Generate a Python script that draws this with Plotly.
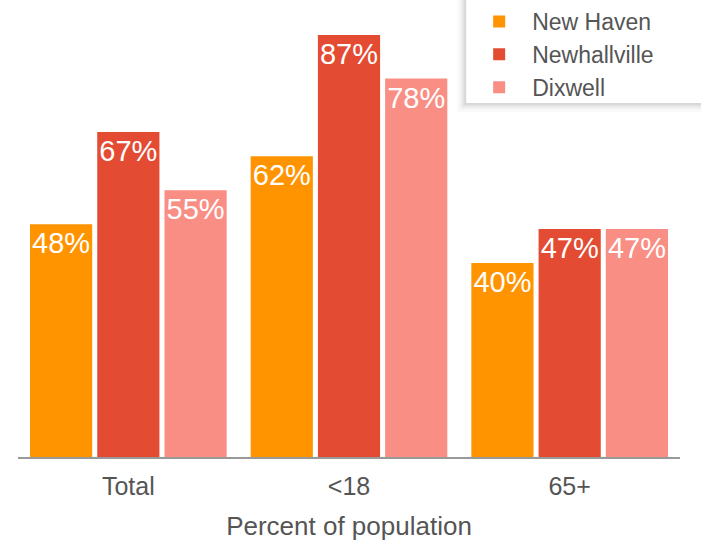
import plotly.graph_objects as go

categories = ["Total", "<18", "65+"]
series_names = ["New Haven", "Newhallville", "Dixwell"]
new_haven = [48, 62, 40]
newhallville = [67, 87, 47]
dixwell = [55, 78, 47]
colors = ["#FF9400", "#E34B33", "#F88E84"]

fig = go.Figure()
for name, vals, col in zip(series_names, [new_haven, newhallville, dixwell], colors):
    fig.add_trace(go.Bar(
        x=categories, y=vals, name=name, marker_color=col, marker_line_width=0,
        text=[f"{v}%" for v in vals], textposition="inside", insidetextanchor="end",
        textangle=0,
        textfont=dict(color="white", size=29, family="Liberation Sans, Arial, sans-serif"),
    ))

# legend backdrop box with a soft shadow (decoration)
box_y0 = (457 - 103) / 457
for op, grow in [(0.025, 9), (0.035, 6), (0.045, 4), (0.06, 2)]:
    fig.add_shape(type="rect", xref="paper", yref="paper",
                  x0=0.677 - grow / 662, x1=1.04, y0=box_y0 - grow / 457, y1=1.02,
                  fillcolor=f"rgba(0,0,0,{op})", line_width=0, layer="above")
fig.add_shape(type="rect", xref="paper", yref="paper",
              x0=0.677, x1=1.04, y0=box_y0, y1=1.02,
              fillcolor="white", line_width=0, layer="above")

fig.update_layout(
    width=701, height=544,
    barmode="group", bargap=0.086, bargroupgap=0.075,
    margin=dict(l=18, r=21, t=0, b=87, autoexpand=False),
    plot_bgcolor="white", paper_bgcolor="white",
    uniformtext=dict(minsize=29, mode="show"),
    font=dict(family="Liberation Sans, Arial, sans-serif", color="#555555", size=24),
    legend=dict(xref="container", yref="container", x=0.665, y=1.0, xanchor="left", yanchor="top",
                bgcolor="rgba(0,0,0,0)", borderwidth=0,
                font=dict(family="Liberation Sans, Arial, sans-serif", size=23, color="#555555"),
                itemwidth=56, tracegroupgap=0),
    xaxis=dict(showline=True, linecolor="#999999", linewidth=2, ticks="",
               tickfont=dict(size=25), ticklabelstandoff=6,
               title=dict(text="Percent of population", standoff=18, font=dict(size=26))),
    yaxis=dict(range=[0, 94.2], visible=False, showgrid=False),
)
fig.write_html("out.html", config={"displayModeBar": False},
               post_script="document.body.style.margin='0';document.body.style.overflow='hidden';")
